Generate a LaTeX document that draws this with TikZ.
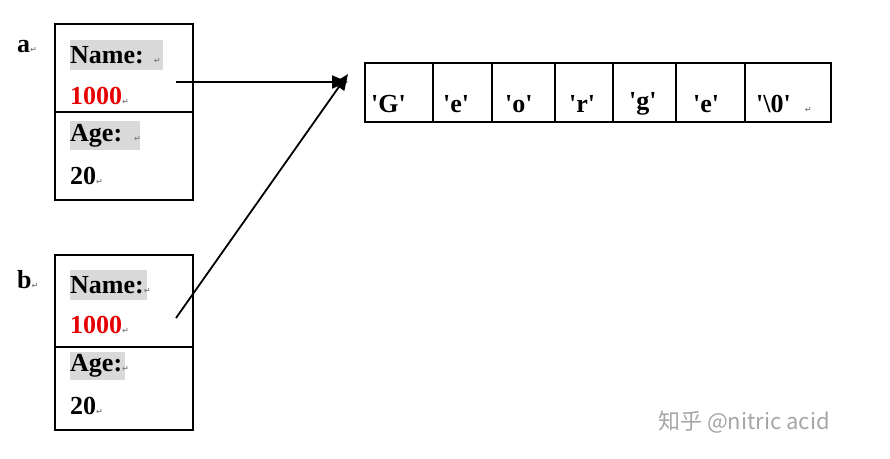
\documentclass[tikz,border=0pt]{standalone}
\usepackage{fontspec}
\setmainfont{Liberation Serif}
\newfontfamily\dv{DejaVu Sans}
\newfontfamily\cjk{Noto Sans CJK SC}
\usetikzlibrary{arrows.meta}
\definecolor{hl}{RGB}{217,217,217}
\definecolor{rd}{RGB}{230,0,0}
\newcommand{\parmk}{{\dv\color{gray}\fontsize{8}{8}\selectfont ↵}}
\newcommand{\q}{\textquotesingle}
\begin{document}
\begin{tikzpicture}[x=1pt,y=-1pt,
  txt/.style={font=\bfseries\fontsize{26}{26}\selectfont,anchor=west,inner sep=0},
  hlbox/.style={fill=hl,draw=none},
  frame/.style={draw,line width=2pt},
  arr/.style={-{Triangle[length=16pt,width=13pt]},line width=1.8pt}]
\useasboundingbox (0,0) rectangle (890,458);
% labels
\node[txt] (la) at (17,47) {a\parmk};
\node[txt] (lb) at (17,280) {b\parmk};
% box a
\fill[hlbox] (70,40) rectangle (163,70);
\fill[hlbox] (70,121) rectangle (140,150);
\draw[frame] (55,24) rectangle (193,200);
\draw[frame] (55,112) -- (193,112);
\node[txt] (na) at (70,55) {Name:\hspace{10pt}\parmk};
\node[txt,text=rd] (va) at (70,96) {1000\parmk};
\node[txt] (aa) at (70,136) {Age:\hspace{12pt}\parmk};
\node[txt] (ga) at (70,176) {20\parmk};
% box b
\fill[hlbox] (70,270) rectangle (147,300);
\fill[hlbox] (70,352) rectangle (125,380);
\draw[frame] (55,255) rectangle (193,430);
\draw[frame] (55,347) -- (193,347);
\node[txt] (nb) at (70,285) {Name:\parmk};
\node[txt,text=rd] (vb) at (70,325) {1000\parmk};
\node[txt] (ab) at (70,366) {Age:\parmk};
\node[txt] (gb) at (70,406) {20\parmk};
% array
\draw[frame] (365,63) rectangle (831,122);
\foreach \x in {433,492,555,613,676,745} \draw[frame] (\x,63) -- (\x,122);
\node[txt] (c1) at (371,104) {\q G\q};
\node[txt] (c2) at (443,104) {\q e\q};
\node[txt] (c3) at (505,104) {\q o\q};
\node[txt] (c4) at (569,104) {\q r\q};
\node[txt] (c5) at (629,104) {\q g\q};
\node[txt] (c6) at (693,104) {\q e\q};
\node[txt] (c7) at (756,104) {\q\textbackslash 0\q\hspace{14pt}\parmk};
% arrows
\coordinate (sa) at (176,82);
\coordinate (ta) at (348,82);
\coordinate (sb) at (176,318);
\coordinate (tb) at (348,74);
\draw[arr] (sa) -- (ta);
\draw[arr] (sb) -- (tb);
% watermark
\node[anchor=west,inner sep=0,text=gray!70,font=\fontsize{22}{22}\selectfont] (wm) at (658,422) {\cjk 知乎 @nitric acid};
\end{tikzpicture}
\end{document}
